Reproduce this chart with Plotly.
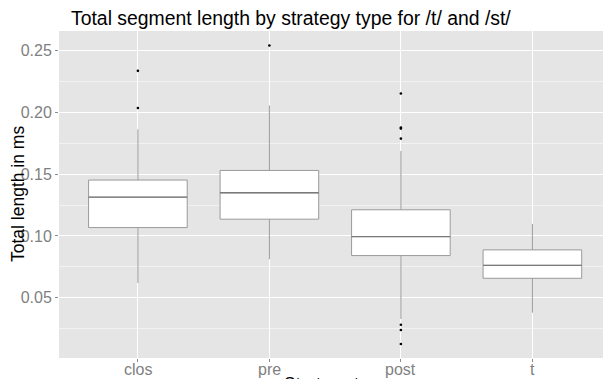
import plotly.graph_objects as go

categories = ["clos", "pre", "post", "t"]
q1 = [0.1068, 0.1136, 0.0841, 0.0657]
median = [0.1314, 0.1350, 0.0995, 0.0762]
q3 = [0.1453, 0.1531, 0.1212, 0.0887]
lower_whisker = [0.0619, 0.0811, 0.0327, 0.0378]
upper_whisker = [0.1864, 0.2057, 0.1688, 0.1098]
outlier_cats = ["clos", "clos", "pre", "post", "post", "post", "post", "post", "post", "post"]
outlier_vals = [0.2338, 0.2037, 0.2544, 0.2154, 0.1878, 0.1870, 0.1789, 0.0281, 0.0238, 0.0124]
y_ticks = [0.05, 0.10, 0.15, 0.20, 0.25]
y_tick_labels = ["0.05", "0.10", "0.15", "0.20", "0.25"]

W, H = 603, 379
L, R, T, B = 59, 0, 31, 21
pw = W - L - R
ph = H - T - B

fig = go.Figure()
fig.add_trace(go.Box(
    x=categories, q1=q1, median=median, q3=q3,
    lowerfence=lower_whisker, upperfence=upper_whisker,
    fillcolor="white", line=dict(color="#9a9a9a", width=1),
    whiskerwidth=0, width=0.75, boxpoints=False, showlegend=False,
    hoverinfo="skip",
))
# darker median line (degenerate box)
fig.add_trace(go.Box(
    x=categories, q1=median, median=median, q3=median,
    lowerfence=median, upperfence=median,
    fillcolor="rgba(0,0,0,0)", line=dict(color="#7a7a7a", width=1.3),
    whiskerwidth=0, width=0.75, boxpoints=False, showlegend=False,
    hoverinfo="skip",
))
fig.add_trace(go.Scatter(
    x=outlier_cats, y=outlier_vals, mode="markers",
    marker=dict(color="black", size=2.6), showlegend=False, hoverinfo="skip",
))

font = "Liberation Sans, Helvetica, Arial, sans-serif"
annotations = [
    dict(text="Total segment length by strategy type for /t/ and /st/",
         xref="paper", yref="paper", x=(291 - L) / pw, y=1.0,
         xanchor="center", yanchor="bottom", showarrow=False,
         font=dict(size=19.4, color="black"), yshift=0),
    dict(text="Total length in ms", xref="paper", yref="paper",
         x=(17.5 - L) / pw, y=0.5, xanchor="center", yanchor="middle",
         textangle=-90, showarrow=False, font=dict(size=17.5, color="black")),
    dict(text="Strategy type", xref="x", yref="paper",
         x=1.5, y=-(372 - (T + ph)) / ph, xanchor="center", yanchor="top",
         showarrow=False, font=dict(size=17.5, color="black")),
]
for c in categories:
    annotations.append(dict(
        text=c, xref="x", yref="paper", x=c, y=-(359 - (T + ph)) / ph,
        xanchor="center", yanchor="top", showarrow=False,
        font=dict(size=16, color="#7f7f7f")))

fig.update_layout(
    width=W, height=H,
    margin=dict(l=L, r=R, t=T, b=B, autoexpand=False),
    paper_bgcolor="white", plot_bgcolor="#E5E5E5",
    boxmode="overlay",
    font=dict(family=font),
    xaxis=dict(
        type="category", categoryorder="array", categoryarray=categories,
        range=[-0.6, 3.537], showgrid=True, gridcolor="white", gridwidth=1,
        zeroline=False, ticks="outside", ticklen=3, tickcolor="#8a8a8a",
        showticklabels=False, showline=False, automargin=False,
    ),
    yaxis=dict(
        range=[0.0011, 0.2661], tickvals=y_ticks, ticktext=y_tick_labels,
        showgrid=True, gridcolor="white", gridwidth=1, zeroline=False,
        ticks="outside", ticklen=3, tickcolor="#8a8a8a", automargin=False,
        tickfont=dict(size=16, color="#7f7f7f"), showline=False,
        minor=dict(dtick=0.025, tick0=0.0, showgrid=True, gridcolor="#F2F2F2", gridwidth=0.6, ticks=""),
    ),
    annotations=annotations,
)

fig.write_html("out.html", config={"displayModeBar": False},
               post_script="document.body.style.margin='0';document.body.style.padding='0';")
